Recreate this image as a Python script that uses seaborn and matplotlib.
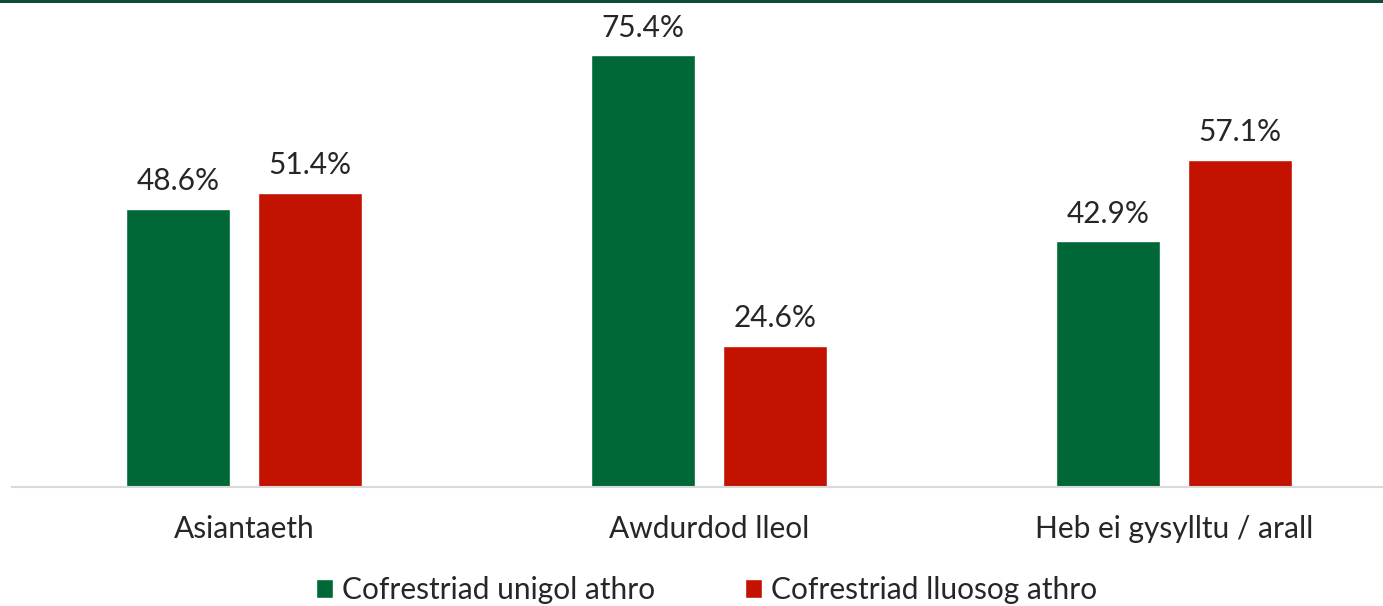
import matplotlib
matplotlib.use("Agg")
import matplotlib.pyplot as plt
from matplotlib.patches import Rectangle
import seaborn as sns
import pandas as pd

# ------------------ Data ------------------
categories = ["Asiantaeth", "Awdurdod lleol", "Heb ei gysylltu / arall"]
series_names = ["Cofrestriad unigol athro", "Cofrestriad lluosog athro"]
single_values = [48.6, 75.4, 42.9]
multiple_values = [51.4, 24.6, 57.1]

colors = ["#006837", "#C41200"]

df = pd.DataFrame({
    "category": categories * 2,
    "series": [series_names[0]] * 3 + [series_names[1]] * 3,
    "value": single_values + multiple_values,
})

# ------------------ Plot ------------------
sns.set_style("white")
plt.rcParams["font.family"] = ["Lato", "DejaVu Sans"]

fig = plt.figure(figsize=(13.83, 6.06), dpi=100)
ax = fig.add_axes([0.0087, 0.1964, 0.9913, 0.7556])

sns.barplot(data=df, x="category", y="value", hue="series", palette=colors,
            width=0.568, gap=0.212, ax=ax, legend=True, saturation=1)

for container in ax.containers:
    ax.bar_label(container, fmt="%.1f%%", padding=10, fontsize=21.5, clip_on=False)

ax.set_ylim(0, 80)
ax.set_xlim(-0.5, 2.45)
ax.set_xlabel("")
ax.set_ylabel("")
ax.set_yticks([])
ax.tick_params(axis="x", length=0, labelsize=21.5, pad=20)
for side in ["top", "right", "left"]:
    ax.spines[side].set_visible(False)
ax.spines["bottom"].set_color("#D9D9D9")
ax.spines["bottom"].set_linewidth(1.5)

ax.legend(loc="center", bbox_to_anchor=(0.511, 1 - 590 / 606), bbox_transform=fig.transFigure,
          ncol=2, frameon=False, fontsize=21.5, handlelength=0.58, handleheight=0.58,
          handletextpad=0.3, columnspacing=3.0, borderaxespad=0, borderpad=0)

# dark green rule across the top
fig.add_artist(Rectangle((0, 1 - 3 / 606), 1, 3 / 606, transform=fig.transFigure,
                         color="#0B4D3A", linewidth=0))

fig.savefig("out.png", dpi=100)
